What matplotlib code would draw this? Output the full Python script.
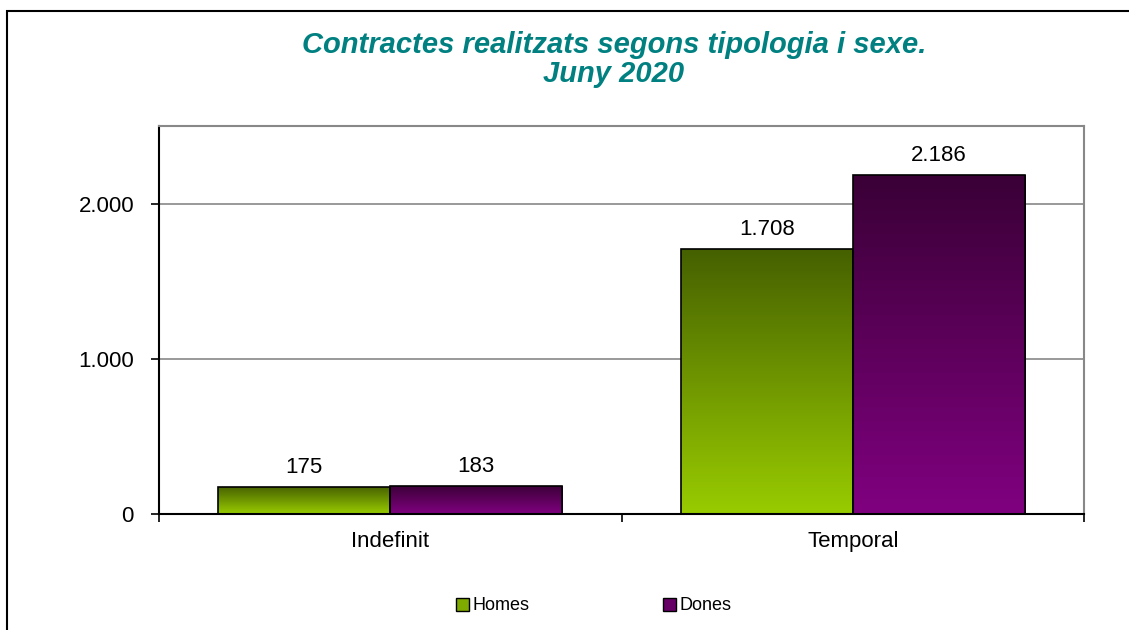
import numpy as np
import matplotlib.pyplot as plt
from matplotlib.colors import LinearSegmentedColormap
from matplotlib.patches import Rectangle
from matplotlib.ticker import FuncFormatter

categories = ["Indefinit", "Temporal"]
homes = [175, 1708]
dones = [183, 2186]
series_names = ["Homes", "Dones"]

plt.rcParams['font.family'] = ['Liberation Sans', 'DejaVu Sans']

fig = plt.figure(figsize=(11.29, 6.3), dpi=100)
ax = fig.add_axes([159/1129, 1 - 514/630, (1084-159)/1129, (514-126)/630])

# outer frame of the chart
fig.patches.append(Rectangle((7/1129, -0.1), 1.2, 1 - 11/630 + 0.1, transform=fig.transFigure,
                             fill=False, edgecolor='black', linewidth=1.5))

x = np.arange(len(categories))
w = 0.372
green = LinearSegmentedColormap.from_list('g', ['#99CC00', '#456000'])
purple = LinearSegmentedColormap.from_list('p', ['#800080', '#3A0036'])
grad = np.linspace(0, 1, 256).reshape(-1, 1)

bars_h = ax.bar(x - w/2, homes, w, facecolor='none', edgecolor='black', linewidth=1.2, zorder=3)
bars_d = ax.bar(x + w/2, dones, w, facecolor='none', edgecolor='black', linewidth=1.2, zorder=3)

for bars, cmap in [(bars_h, green), (bars_d, purple)]:
    for b in bars:
        x0, y0 = b.get_x(), b.get_y()
        im = ax.imshow(grad, cmap=cmap, origin='lower', aspect='auto',
                       extent=[x0, x0 + b.get_width(), y0, y0 + b.get_height()], zorder=2)
        im.set_clip_path(b)
        ax.text(x0 + b.get_width()/2, b.get_height() + 55, f"{b.get_height():,.0f}".replace(',', '.'),
                ha='center', va='bottom', fontsize=16)

ax.set_xlim(-0.5, 1.5)
ax.set_ylim(0, 2500)

ax.set_yticks([0, 1000, 2000])
ax.yaxis.set_major_formatter(FuncFormatter(lambda v, p: f"{v:,.0f}".replace(',', '.')))
ax.grid(axis='y', color='#888888', linewidth=1.2, zorder=1)
ax.set_axisbelow(True)

ax.set_xticks([-0.5, 0.5, 1.5])
ax.set_xticklabels([])
ax.set_xticks(x, minor=True)
ax.set_xticklabels(categories, minor=True)
ax.tick_params(axis='x', which='minor', length=0, pad=12, labelsize=16)
ax.tick_params(axis='x', which='major', length=6, width=1.2, direction='out')
ax.tick_params(axis='y', length=6, width=1.2, labelsize=16, pad=12)

for s in ['left', 'bottom']:
    ax.spines[s].set_color('black')
    ax.spines[s].set_linewidth(1.5)
for s in ['top', 'right']:
    ax.spines[s].set_color('#888888')
    ax.spines[s].set_linewidth(1.5)

fig.text(614/1129, 1 - 45/630, "Contractes realitzats segons tipologia i sexe.", ha='center', va='center',
         fontsize=21, fontweight='bold', fontstyle='italic', color='#008080')
fig.text(614/1129, 1 - 74/630, "Juny 2020", ha='center', va='center',
         fontsize=21, fontweight='bold', fontstyle='italic', color='#008080')

h1 = Rectangle((0, 0), 1, 1, facecolor='#7FAA00', edgecolor='black')
h2 = Rectangle((0, 0), 1, 1, facecolor='#660066', edgecolor='black')
fig.legend([h1, h2], series_names, loc='center', bbox_to_anchor=(594/1129, 1 - 606/630),
           ncol=2, frameon=False, fontsize=13, handlelength=0.7, handleheight=0.7,
           handletextpad=0.2, columnspacing=7.4)

plt.savefig('out.png', dpi=100)
